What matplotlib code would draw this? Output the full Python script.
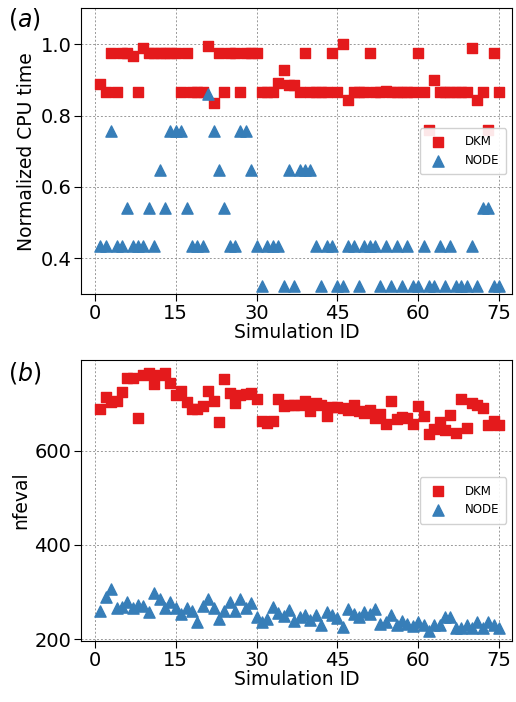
import matplotlib
matplotlib.use("Agg")
import matplotlib.pyplot as plt
import numpy as np

sim_id = list(range(1, 76))

# normalized CPU time (panel a)
cpu_dkm = [0.889, 0.866, 0.974, 0.866, 0.974, 0.974, 0.967, 0.866, 0.990, 0.974,
           0.974, 0.974, 0.974, 0.974, 0.974, 0.866, 0.974, 0.866, 0.866, 0.866,
           0.995, 0.836, 0.974, 0.866, 0.974, 0.974, 0.866, 0.974, 0.974, 0.974,
           0.866, 0.866, 0.866, 0.892, 0.927, 0.885, 0.885, 0.866, 0.974, 0.866,
           0.866, 0.866, 0.866, 0.974, 0.866, 1.000, 0.843, 0.866, 0.866, 0.866,
           0.974, 0.866, 0.866, 0.870, 0.866, 0.866, 0.866, 0.866, 0.866, 0.974,
           0.866, 0.760, 0.900, 0.866, 0.866, 0.866, 0.866, 0.866, 0.866, 0.990,
           0.843, 0.866, 0.760, 0.974, 0.866]
cpu_node = [0.434, 0.434, 0.756, 0.434, 0.434, 0.540, 0.434, 0.434, 0.434, 0.540,
            0.434, 0.648, 0.540, 0.756, 0.756, 0.756, 0.540, 0.434, 0.434, 0.434,
            0.860, 0.756, 0.648, 0.540, 0.434, 0.434, 0.756, 0.756, 0.648, 0.434,
            0.324, 0.434, 0.434, 0.434, 0.324, 0.648, 0.324, 0.648, 0.648, 0.648,
            0.434, 0.324, 0.434, 0.434, 0.324, 0.324, 0.434, 0.434, 0.324, 0.434,
            0.434, 0.434, 0.324, 0.434, 0.324, 0.434, 0.324, 0.434, 0.324, 0.324,
            0.434, 0.324, 0.324, 0.434, 0.324, 0.434, 0.324, 0.324, 0.324, 0.434,
            0.324, 0.540, 0.540, 0.324, 0.324]

# number of function evaluations (panel b)
nfev_dkm = [688, 714, 704, 705, 725, 754, 754, 670, 761, 764,
            742, 761, 764, 744, 717, 727, 704, 689, 689, 694,
            726, 706, 661, 751, 723, 701, 718, 720, 722, 710,
            663, 658, 663, 709, 695, 697, 697, 696, 706, 684,
            700, 696, 673, 693, 693, 691, 686, 696, 683, 679,
            687, 669, 678, 657, 705, 668, 672, 670, 656, 695,
            673, 635, 646, 661, 644, 675, 637, 710, 648, 700,
            696, 690, 654, 663, 654]
nfev_node = [259, 289, 307, 265, 267, 279, 265, 273, 270, 258,
             297, 286, 265, 278, 265, 253, 265, 259, 236, 271,
             284, 265, 242, 260, 279, 260, 285, 265, 277, 247,
             236, 243, 267, 255, 249, 261, 238, 246, 250, 241,
             251, 229, 257, 250, 244, 225, 263, 254, 246, 257,
             254, 263, 232, 236, 250, 230, 239, 232, 228, 236,
             229, 218, 229, 229, 246, 246, 223, 223, 229, 223,
             236, 223, 236, 229, 223]

red = '#e41a1c'
blue = '#377eb8'

fig = plt.figure(figsize=(5.16, 7.02), dpi=100)
ax1 = fig.add_axes([0.157, 0.581, 0.835, 0.407])
ax2 = fig.add_axes([0.157, 0.087, 0.835, 0.400])

for ax, ydkm, ynode in [(ax1, cpu_dkm, cpu_node), (ax2, nfev_dkm, nfev_node)]:
    ax.scatter(sim_id, ydkm, marker='s', s=55, color=red, label='DKM', zorder=3)
    ax.scatter(sim_id, ynode, marker='^', s=65, color=blue, label='NODE', zorder=3)
    ax.set_xticks([0, 15, 30, 45, 60, 75])
    ax.set_xlim(-2.6, 77.4)
    ax.set_xlabel('Simulation ID', fontsize=13.5, labelpad=0)
    ax.tick_params(labelsize=14, length=5, pad=2)
    ax.grid(ls=(0, (2, 2)), color='gray', lw=0.7, alpha=0.8)
    ax.set_axisbelow(True)
    ax.legend(loc='center right', fontsize=8.5, handletextpad=1.2,
              borderpad=0.6, framealpha=0.9)

ax1.set_ylim(0.3, 1.1)
ax1.set_yticks([0.4, 0.6, 0.8, 1.0])
ax1.set_ylabel('Normalized CPU time', fontsize=13.5, labelpad=3)
ax2.set_ylim(196, 792)
ax2.set_yticks([200, 400, 600])
ax2.set_ylabel('nfeval', fontsize=13.5, labelpad=3)

fig.text(0.016, 0.962, r'$(a)$', fontsize=17)
fig.text(0.016, 0.458, r'$(b)$', fontsize=17)

fig.savefig('out.png', dpi=100)
